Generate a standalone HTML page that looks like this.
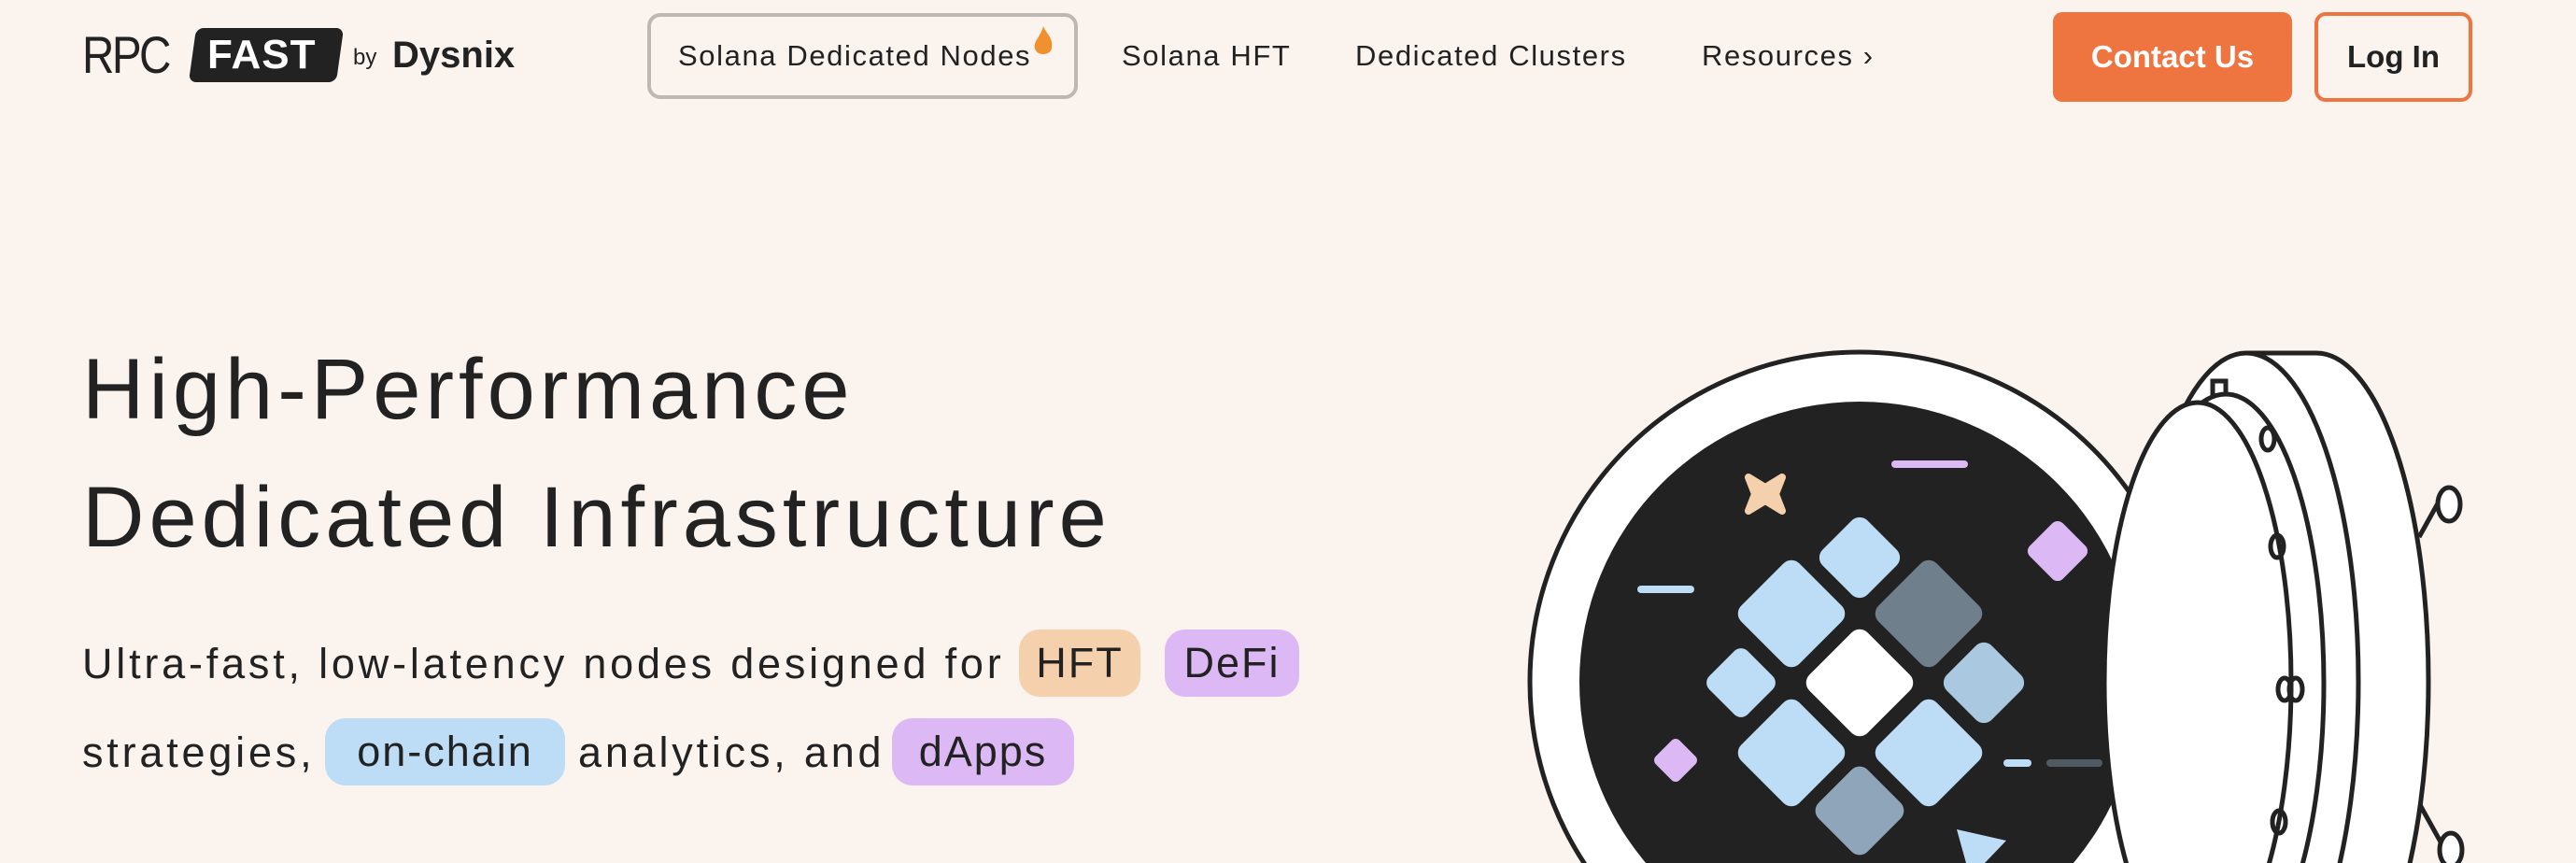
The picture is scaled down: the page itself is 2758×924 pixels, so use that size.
<!DOCTYPE html>
<html><head><meta charset="utf-8"><style>
*{margin:0;padding:0;box-sizing:border-box}
body{width:2758px;height:924px;overflow:hidden;background:#faf3ee;font-family:"Liberation Sans",sans-serif;color:#222;position:relative}
.a{position:absolute;white-space:nowrap}
.nav{font-size:31px;top:42px;line-height:36px;letter-spacing:1.6px}
.pill{position:absolute;border-radius:22px;font-size:45px;line-height:72px;text-align:center;letter-spacing:2px}
.sub{font-size:45px;line-height:54px;letter-spacing:3.8px}
</style></head><body>
<div class="a" style="left:88px;top:30px;font-size:56px;line-height:58px;letter-spacing:-3px;transform:scaleX(0.85);transform-origin:left">RPC</div>
<div class="a" style="left:206px;top:30px;width:158px;height:58px;background:#222;border-radius:8px;transform:skewX(-8deg)"></div>
<div class="a" style="left:222px;top:33px;font-size:44px;line-height:52px;color:#fff;font-weight:bold;letter-spacing:1px">FAST</div>
<div class="a" style="left:378px;top:48px;font-size:24px">by</div>
<div class="a" style="left:420px;top:36px;font-size:40px;font-weight:bold;line-height:46px">Dysnix</div>
<div class="a" style="left:693px;top:14px;width:461px;height:92px;border:4px solid #bdb8b3;border-radius:14px"></div>
<div class="a nav" style="left:726px">Solana Dedicated Nodes</div>
<svg class="a" style="left:1104px;top:26px" width="26" height="36" viewBox="0 0 26 36"><path d="M13 2 C16 10 24 14 22 26 C20 34 6 34 4 26 C2 18 10 14 13 2Z" fill="#f0902f"/></svg>
<div class="a nav" style="left:1201px">Solana HFT</div>
<div class="a nav" style="left:1451px">Dedicated Clusters</div>
<div class="a nav" style="left:1822px">Resources ›</div>
<div class="a" style="left:2198px;top:13px;width:256px;height:96px;background:#ef7540;border-radius:10px;color:#fff;font-size:33px;font-weight:bold;text-align:center;line-height:96px">Contact Us</div>
<div class="a" style="left:2478px;top:13px;width:169px;height:96px;border:4px solid #ef7540;border-radius:12px;font-size:33px;font-weight:bold;text-align:center;line-height:88px">Log In</div>

<div class="a" style="left:88px;top:362px;font-size:92px;line-height:110px;letter-spacing:5px">High-Performance</div>
<div class="a" style="left:88px;top:499px;font-size:92px;line-height:110px;letter-spacing:5px">Dedicated Infrastructure</div>
<div class="a sub" style="left:88px;top:684px">Ultra-fast, low-latency nodes designed for</div>
<div class="pill" style="left:1091px;top:674px;width:130px;background:#f5d0ad">HFT</div>
<div class="pill" style="left:1247px;top:674px;width:144px;background:#dcb8f4">DeFi</div>
<div class="a sub" style="left:88px;top:779px">strategies,</div>
<div class="pill" style="left:348px;top:769px;width:257px;background:#bddcf5">on-chain</div>
<div class="a sub" style="left:619px;top:779px">analytics, and</div>
<div class="pill" style="left:955px;top:769px;width:195px;background:#dcb8f4">dApps</div>

<svg class="a" style="left:0;top:0" width="2758" height="924" viewBox="0 0 2758 924">
<g stroke="#222" stroke-width="5" fill="#fff">
<circle cx="1991" cy="730" r="353"/>
<circle cx="1991" cy="730" r="300" fill="#222" stroke="none"/>
</g>
<g fill="#bddcf5">
<rect x="1957" y="563" width="68" height="68" rx="12" transform="rotate(45 1991 597)"/>
<rect x="1874" y="613" width="88" height="88" rx="12" transform="rotate(45 1918 657)"/>
<rect x="2021" y="613" width="88" height="88" rx="12" fill="#6f7f8c" transform="rotate(45 2065 657)"/>
<rect x="1835" y="702" width="58" height="58" rx="10" transform="rotate(45 1864 731)"/>
<rect x="1947" y="687" width="88" height="88" rx="12" fill="#fff" transform="rotate(45 1991 731)"/>
<rect x="2090" y="697" width="68" height="68" rx="12" fill="#aac8e0" transform="rotate(45 2124 731)"/>
<rect x="1874" y="762" width="88" height="88" rx="12" transform="rotate(45 1918 806)"/>
<rect x="2021" y="762" width="88" height="88" rx="12" transform="rotate(45 2065 806)"/>
<rect x="1954" y="831" width="74" height="74" rx="12" fill="#8fa6ba" transform="rotate(45 1991 868)"/>
<rect x="2178" y="565" width="50" height="50" rx="8" fill="#dcb8f4" transform="rotate(45 2203 590)"/>
<rect x="1776" y="796" width="36" height="36" rx="6" fill="#dcb8f4" transform="rotate(45 1794 814)"/>
<rect x="2025" y="493" width="82" height="8" rx="4" fill="#dcb8f4"/>
<rect x="1753" y="627" width="61" height="8" rx="4"/>
<rect x="2145" y="813" width="30" height="8" rx="4"/>
<rect x="2191" y="813" width="60" height="8" rx="4" fill="#505a63"/>
<path d="M2095 888 L2148 900 L2125 924 L2105 924Z"/>
<path d="M1872 511 L1890 522 L1908 511 L1901 529 L1908 547 L1890 536 L1872 547 L1879 529Z" fill="#f5d0ad" stroke="#f5d0ad" stroke-width="8" stroke-linejoin="round"/>
</g>
<g stroke="#222" stroke-width="5" fill="#fff">
<line x1="2590" y1="575" x2="2615" y2="530"/>
<ellipse cx="2622" cy="540" rx="12" ry="18"/>
<line x1="2590" y1="860" x2="2615" y2="905"/>
<ellipse cx="2624" cy="910" rx="12" ry="18"/>
<ellipse cx="2480" cy="730" rx="120" ry="352"/>
<rect x="2405" y="378" width="75" height="600" stroke="none"/>
<line x1="2405" y1="378" x2="2480" y2="378"/>
<ellipse cx="2405" cy="730" rx="120" ry="352"/>
<rect x="2369" y="408" width="14" height="28" fill="none"/>
<ellipse cx="2383" cy="732" rx="105" ry="310"/>
<ellipse cx="2353" cy="731" rx="100" ry="300"/>
<ellipse cx="2428" cy="470" rx="7" ry="12" fill="none"/>
<ellipse cx="2438" cy="585" rx="7" ry="12" fill="none"/>
<ellipse cx="2446" cy="738" rx="7" ry="12" fill="none"/>
<ellipse cx="2458" cy="738" rx="7" ry="12" fill="none"/>
<ellipse cx="2440" cy="880" rx="7" ry="12" fill="none"/>
</g>
</svg>
</body></html>
